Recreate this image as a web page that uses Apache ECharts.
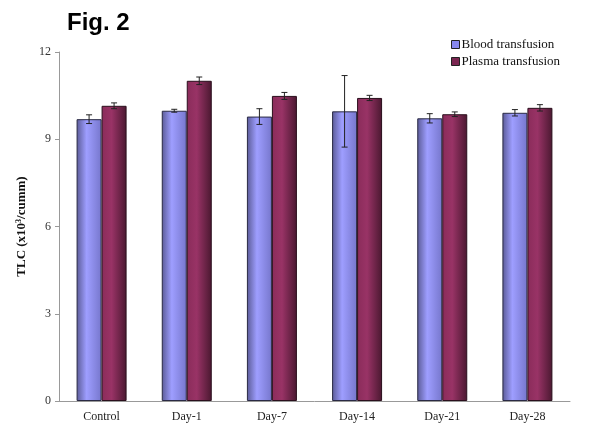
<!DOCTYPE html>
<html>
<head>
<meta charset="utf-8">
<script src="https://cdn.jsdelivr.net/npm/echarts@6/dist/echarts.min.js"></script>
<style>
  html, body { margin: 0; padding: 0; background: #fff; }
  #chart { width: 597px; height: 426px; }
</style>
</head>
<body>
<div id="chart"></div>
<script>
// data
var categories = ['Control', 'Day-1', 'Day-7', 'Day-14', 'Day-21', 'Day-28']
var bloodMean = [9.69, 9.98, 9.78, 9.96, 9.72, 9.91]
var bloodErr = [0.15, 0.05, 0.27, 1.23, 0.16, 0.11]
var plasmaMean = [10.15, 11.01, 10.49, 10.42, 9.86, 10.08]
var plasmaErr = [0.10, 0.13, 0.12, 0.09, 0.08, 0.11]
var yTicks = [0, 3, 6, 9, 12]

var serif = '"Liberation Serif", "DejaVu Serif", serif'
var barW = 25

function grad(c0, c1, c2) {
  return new echarts.graphic.LinearGradient(0, 0, 1, 0, [
    { offset: 0, color: c0 },
    { offset: 0.4, color: c1 },
    { offset: 1, color: c2 }
  ])
}

// error bar drawn via custom series, shifted to sit on its bar
function errSeries(name, mean, err, shift) {
  var data = mean.map(function (m, i) { return [i, m - err[i], m + err[i]] })
  return {
    type: 'custom',
    name: name + ' err',
    data: data,
    z: 10,
    silent: true,
    renderItem: function (params, api) {
      var lo = api.coord([api.value(0), api.value(1)])
      var hi = api.coord([api.value(0), api.value(2)])
      var x = lo[0] + shift
      var cap = 3
      var st = { stroke: '#222', lineWidth: 1 }
      return {
        type: 'group',
        children: [
          { type: 'line', shape: { x1: x, y1: hi[1], x2: x, y2: lo[1] }, style: st },
          { type: 'line', shape: { x1: x - cap, y1: hi[1], x2: x + cap, y2: hi[1] }, style: st },
          { type: 'line', shape: { x1: x - cap, y1: lo[1], x2: x + cap, y2: lo[1] }, style: st }
        ]
      }
    }
  }
}

var chart = echarts.init(document.getElementById('chart'), null, { renderer: 'canvas' })

var option = {
  animation: false,
  title: {
    text: 'Fig. 2',
    left: 62,
    top: 6,
    textStyle: { fontFamily: '"Liberation Sans", Arial, sans-serif', fontWeight: 'bold', fontSize: 24, color: '#000' }
  },
  legend: {
    orient: 'vertical',
    left: 446,
    top: 33,
    icon: 'rect',
    itemWidth: 8,
    itemHeight: 8,
    itemGap: 4,
    textStyle: { fontFamily: serif, fontSize: 13, color: '#111', padding: [0, 0, 0, -3] }
  },
  grid: { left: 59, right: 27, top: 52, bottom: 25 },
  xAxis: {
    type: 'category',
    data: categories,
    axisLine: { lineStyle: { color: '#999' } },
    axisTick: { length: 4, lineStyle: { color: '#999' } },
    axisLabel: { fontFamily: serif, fontSize: 12, color: '#222', margin: 10 }
  },
  yAxis: {
    type: 'value',
    min: 0,
    max: 12,
    interval: 3,
    name: 'TLC (x10{sup|3}/cumm)',
    nameLocation: 'middle',
    nameGap: 29,
    nameTextStyle: {
      fontFamily: serif, fontSize: 13, fontWeight: 'bold', color: '#111',
      rich: { sup: { fontFamily: serif, fontSize: 8, fontWeight: 'bold', verticalAlign: 'top', padding: [0, 0, 6, 0] } }
    },
    axisLine: { show: true, lineStyle: { color: '#999' } },
    axisTick: { show: true, length: 4, lineStyle: { color: '#999' } },
    splitLine: { show: false },
    axisLabel: { fontFamily: serif, fontSize: 12, color: '#333', margin: 8,
      formatter: function (v) { return yTicks.indexOf(v) >= 0 ? v : '' } }
  },
  series: [
    {
      name: 'Blood transfusion',
      type: 'bar',
      data: bloodMean,
      barWidth: barW,
      barGap: '0%',
      itemStyle: { color: grad('#5a5a96', '#9e9eff', '#7676cc'), borderColor: '#2a2a44', borderWidth: 1 }
    },
    {
      name: 'Plasma transfusion',
      type: 'bar',
      data: plasmaMean,
      barWidth: barW,
      barGap: '0%',
      itemStyle: { color: grad('#8a2c5a', '#993366', '#4a1830'), borderColor: '#2a0f1c', borderWidth: 1 }
    },
    errSeries('Blood transfusion', bloodMean, bloodErr, -barW / 2),
    errSeries('Plasma transfusion', plasmaMean, plasmaErr, barW / 2)
  ]
}

option.legend.data = [
  { name: 'Blood transfusion', itemStyle: { color: '#8888ee', borderColor: '#222', borderWidth: 1 } },
  { name: 'Plasma transfusion', itemStyle: { color: '#7a2550', borderColor: '#222', borderWidth: 1 } }
]

chart.setOption(option)
</script>
</body>
</html>
